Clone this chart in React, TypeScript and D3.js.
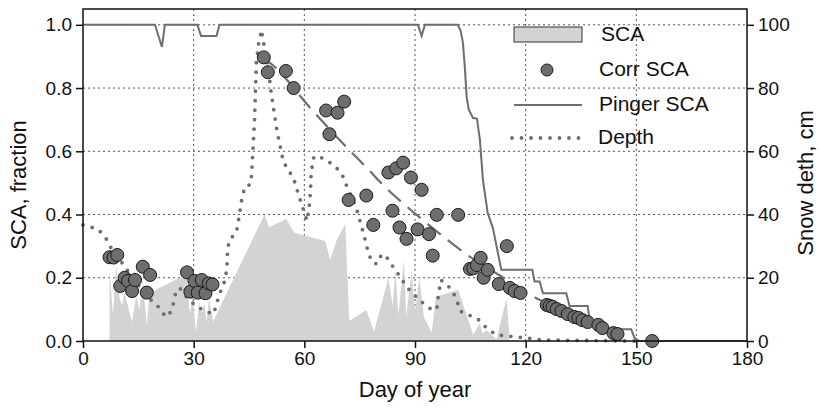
import { useEffect, useRef } from "react";
import * as d3 from "d3";

// Pinger SCA (fraction) by day of year
const pinger: [number, number][] = [
  [0, 1], [19.5, 1], [21.4, 0.93], [22.2, 1], [31, 1], [32, 0.965], [36.2, 0.965], [37, 1],
  [90.8, 1], [91.8, 0.965], [92.7, 1], [101.6, 1], [102.4, 0.98], [103, 0.943], [103.5, 0.867],
  [104, 0.772], [104.6, 0.731], [105.7, 0.706], [106.8, 0.703], [107.6, 0.636], [108.4, 0.51],
  [109.7, 0.405], [111.1, 0.358], [113.4, 0.225], [121.8, 0.225], [122.4, 0.188], [123.8, 0.188],
  [124.7, 0.151], [131, 0.151], [131.9, 0.111], [136.8, 0.111], [137.3, 0.07], [140, 0.05],
  [141, 0.037], [148.6, 0.037], [149.5, 0.01], [150.8, 0], [180, 0],
];

// corrected SCA points
const corrSca: [number, number][] = [
  [7.2, 0.265], [8.3, 0.264], [9.3, 0.272], [10.1, 0.174], [11.3, 0.2], [12.2, 0.19], [13.3, 0.158],
  [14.1, 0.193], [16.2, 0.235], [17.3, 0.153], [18.2, 0.209],
  [28.2, 0.217], [29.1, 0.156], [30.2, 0.19], [31.1, 0.153], [32.2, 0.193], [33.2, 0.151],
  [34.1, 0.182], [35.1, 0.179],
  [49, 0.897], [50.1, 0.85], [55, 0.854], [57.1, 0.8], [65.9, 0.729], [66.8, 0.654], [69, 0.722],
  [70.8, 0.757], [72, 0.446], [76.8, 0.46], [78.7, 0.367], [82.8, 0.533], [83.9, 0.412],
  [84.9, 0.546], [85.8, 0.359], [86.8, 0.564], [87.7, 0.323], [88.9, 0.517], [90.7, 0.353],
  [91.8, 0.478], [93.8, 0.338], [94.8, 0.27], [95.9, 0.399], [101.7, 0.399], [104.9, 0.228],
  [105.8, 0.23], [106.8, 0.24], [107.8, 0.263], [108.6, 0.2], [109.7, 0.225], [112.7, 0.18],
  [114.9, 0.3], [115.7, 0.168], [117, 0.158], [118.6, 0.152],
  [125.7, 0.114], [126.5, 0.111], [127.3, 0.108], [128.4, 0.101], [129.7, 0.095], [131.4, 0.085],
  [133.2, 0.076], [134.3, 0.073], [135.4, 0.066], [136.8, 0.06], [139.7, 0.051], [140.8, 0.041],
  [143.8, 0.025], [144.9, 0.022], [154.3, 0],
];

// fitted trend through the corrected points (dashed)
const trend: [number, number][] = [
  [48.9, 0.896], [52.2, 0.864], [61.6, 0.737], [71.6, 0.611], [77, 0.547], [81.9, 0.487],
  [87.3, 0.43], [92.7, 0.377], [98.1, 0.326], [103.5, 0.278], [113, 0.207], [123.8, 0.13],
  [135, 0.072], [146.8, 0.013],
];

// snow depth, cm (right axis)
const depth: [number, number][] = [
  [0, 36.7], [4, 35.4], [6, 33], [7.3, 30], [10.8, 24.4], [14, 19], [18.4, 13], [20.8, 10.4],
  [22.4, 7.6], [23.8, 9.2], [24.6, 12.3], [25.1, 15.2], [26.2, 16.8], [28, 14], [30.3, 11.4],
  [33, 9.5], [35.4, 8.5], [36.2, 11.7], [37, 14.9], [38, 17.4], [38.6, 20], [39, 23], [39.2, 29],
  [39.7, 32], [41.6, 34.3], [42.4, 40], [43.2, 46], [44, 49], [45.3, 49.4], [45.7, 52.5],
  [46.5, 70], [47, 88], [47.6, 94], [48.4, 98.4], [49.2, 92.7], [50.2, 86.7], [50.8, 80.4],
  [51.9, 71.5], [52.7, 65.8], [53.8, 59.8], [54.3, 56.6], [55.9, 53.8], [57.3, 50.6],
  [58.9, 44.6], [60.7, 38], [61.3, 42], [61.7, 48], [61.8, 52], [62.2, 56], [62.6, 58.3],
  [63.8, 58.5], [66.2, 57], [68.6, 55], [70.5, 52], [71.6, 48.7], [74, 42.4], [75.4, 36.7],
  [76.8, 30.7], [77.3, 27.8], [78.6, 24.7], [79.7, 24.4], [81, 27.5], [82.7, 26], [84.3, 23],
  [86.2, 20], [87.8, 17], [90.3, 14], [92.2, 12], [94.6, 9.8], [95.9, 10.1], [96.2, 13.3],
  [97, 19.3], [98.6, 18], [100.3, 15.5], [101.4, 12.7], [102.2, 9.5], [104.6, 8.2], [107, 7],
  [109.5, 4], [112, 2], [115, 1.6], [119.7, 1], [124.6, 0.3], [150, 0],
];

// satellite SCA (fraction), filled area
const sca: [number, number][] = [
  [7.2, 0], [7.2, 0.23], [8.1, 0.082], [9, 0.24], [9.9, 0.136], [10.6, 0.114], [11.2, 0.155],
  [13.3, 0.06], [14.4, 0.145], [15.3, 0.1], [16.2, 0.187], [17.3, 0.05], [18, 0.145], [19.4, 0.16],
  [26.1, 0.2], [28.1, 0.2], [29, 0.082], [29.7, 0.145], [30.6, 0.03], [31.5, 0.12], [32.2, 0.09],
  [32.9, 0.12], [33.5, 0.06], [34.2, 0.136], [35.3, 0.06], [36, 0.08], [49.2, 0.4], [50.4, 0.36],
  [55.1, 0.386], [57.3, 0.342], [65.7, 0.316], [67, 0.256], [68.8, 0.32], [71.1, 0.37],
  [72.2, 0.063], [76.8, 0.098], [78.9, 0.03], [82.8, 0.2], [84, 0.108], [84.6, 0.225],
  [85.5, 0.082], [87, 0.256], [87.6, 0.077], [89.1, 0.22], [90, 0.093], [91.2, 0.2],
  [92.4, 0.077], [94.5, 0.025], [95.7, 0.14], [101.7, 0.162], [105.8, 0.02], [107.6, 0.056],
  [108.3, 0.024], [109.4, 0.035], [112.1, 0.005], [114.8, 0.135], [115.7, 0],
];

const xTicks = [0, 30, 60, 90, 120, 150, 180];
const yTicks = [0, 0.2, 0.4, 0.6, 0.8, 1.0];
const yRightTicks = [0, 20, 40, 60, 80, 100];

const GRAY = "#6e6e6e";
const FONT = "Liberation Sans, Arial, sans-serif";

export default function App() {
  const svgRef = useRef<SVGSVGElement>(null);

  useEffect(() => {
    if (!svgRef.current) return;
    const svg = d3.select(svgRef.current);
    svg.selectAll("*").remove();

    const left = 83, right = 747, top = 9, bottom = 341;

    const x = d3.scaleLinear().domain([0, 180]).range([left, right]);
    const y = d3.scaleLinear().domain([0, 1.05]).range([bottom, top]);
    const yR = d3.scaleLinear().domain([0, 105]).range([bottom, top]);

    // Grid
    const grid = svg.append("g").attr("stroke", "#555").attr("stroke-width", 1).attr("stroke-dasharray", "2 3");
    grid
      .selectAll("line.h")
      .data(yTicks.filter((d) => d > 0))
      .join("line")
      .attr("x1", left)
      .attr("x2", right)
      .attr("y1", (d) => y(d))
      .attr("y2", (d) => y(d));
    grid
      .selectAll("line.v")
      .data(xTicks.filter((d) => d > 0 && d < 180))
      .join("line")
      .attr("x1", (d) => x(d))
      .attr("x2", (d) => x(d))
      .attr("y1", top)
      .attr("y2", bottom);

    // SCA area
    svg
      .append("path")
      .attr("fill", "#d3d3d3")
      .attr("d", d3.line<[number, number]>().x((d) => x(d[0])).y((d) => y(d[1]))(sca) + "Z");

    // Pinger SCA
    svg
      .append("path")
      .datum(pinger)
      .attr("fill", "none")
      .attr("stroke", GRAY)
      .attr("stroke-width", 2)
      .attr("d", d3.line<[number, number]>().x((d) => x(d[0])).y((d) => y(d[1])));

    // Depth (dotted)
    svg
      .append("path")
      .datum(depth)
      .attr("fill", "none")
      .attr("stroke", GRAY)
      .attr("stroke-width", 3.8)
      .attr("stroke-linecap", "round")
      .attr("stroke-dasharray", "0 9.5")
      .attr("d", d3.line<[number, number]>().x((d) => x(d[0])).y((d) => yR(d[1])));

    // trend (dashed)
    svg
      .append("path")
      .datum(trend)
      .attr("fill", "none")
      .attr("stroke", GRAY)
      .attr("stroke-width", 2.2)
      .attr("stroke-dasharray", "17 9")
      .attr("d", d3.line<[number, number]>().x((d) => x(d[0])).y((d) => y(d[1])).curve(d3.curveMonotoneX));

    // Corr SCA points
    svg
      .append("g")
      .selectAll("circle")
      .data(corrSca)
      .join("circle")
      .attr("cx", (d) => x(d[0]))
      .attr("cy", (d) => y(d[1]))
      .attr("r", 6.5)
      .attr("fill", GRAY)
      .attr("stroke", "#1a1a1a")
      .attr("stroke-width", 1);

    // Frame
    svg
      .append("rect")
      .attr("x", left)
      .attr("y", top)
      .attr("width", right - left)
      .attr("height", bottom - top)
      .attr("fill", "none")
      .attr("stroke", "#111")
      .attr("stroke-width", 1.5);

    // Axes
    const styleAxis = (g: d3.Selection<SVGGElement, unknown, null, undefined>) => {
      g.select(".domain").remove();
      g.selectAll(".tick line").attr("stroke", "#111").attr("stroke-width", 1.5);
      g.selectAll(".tick text").attr("fill", "#111").style("font-size", "19px").style("font-family", FONT);
    };

    svg
      .append("g")
      .attr("transform", `translate(0,${bottom})`)
      .call(d3.axisBottom(x).tickValues(xTicks).tickSize(7).tickPadding(4).tickFormat(d3.format("d")))
      .call(styleAxis);

    svg
      .append("g")
      .attr("transform", `translate(${left},0)`)
      .call(d3.axisLeft(y).tickValues(yTicks).tickSize(7).tickPadding(4).tickFormat(d3.format(".1f")))
      .call(styleAxis);

    svg
      .append("g")
      .attr("transform", `translate(${right},0)`)
      .call(d3.axisRight(yR).tickValues(yRightTicks).tickSize(7).tickPadding(4).tickFormat(d3.format("d")))
      .call(styleAxis);

    // Axis titles
    const title = (sel: d3.Selection<SVGTextElement, unknown, null, undefined>) =>
      sel
        .attr("text-anchor", "middle")
        .style("font-size", "22px")
        .style("font-family", FONT)
        .attr("fill", "#111");

    svg
      .append("text")
      .attr("x", (left + right) / 2)
      .attr("y", 397)
      .call(title)
      .text("Day of year");

    svg
      .append("text")
      .attr("transform", `translate(26,${(top + bottom) / 2 + 10}) rotate(-90)`)
      .call(title)
      .text("SCA, fraction");

    svg
      .append("text")
      .attr("transform", `translate(813,${(top + bottom) / 2 + 8}) rotate(-90)`)
      .call(title)
      .text("Snow deth, cm");

    // Legend
    const legend = svg.append("g");
    const lx = 514;
    legend
      .append("rect")
      .attr("x", lx)
      .attr("y", 27)
      .attr("width", 68)
      .attr("height", 15)
      .attr("fill", "#d3d3d3")
      .attr("stroke", "#333")
      .attr("stroke-width", 1);
    legend
      .append("circle")
      .attr("cx", lx + 33)
      .attr("cy", 70)
      .attr("r", 6)
      .attr("fill", GRAY)
      .attr("stroke", "#1a1a1a");
    legend
      .append("line")
      .attr("x1", lx)
      .attr("x2", lx + 68)
      .attr("y1", 105)
      .attr("y2", 105)
      .attr("stroke", GRAY)
      .attr("stroke-width", 2);
    legend
      .append("line")
      .attr("x1", lx - 2)
      .attr("x2", lx + 68)
      .attr("y1", 138)
      .attr("y2", 138)
      .attr("stroke", GRAY)
      .attr("stroke-width", 3.8)
      .attr("stroke-linecap", "round")
      .attr("stroke-dasharray", "0 9.5");

    const labels = [
      { t: "SCA", y: 41, x: 601 },
      { t: "Corr SCA", y: 76, x: 599 },
      { t: "Pinger SCA", y: 111, x: 599 },
      { t: "Depth", y: 144, x: 598 },
    ];
    legend
      .selectAll("text")
      .data(labels)
      .join("text")
      .attr("x", (d) => d.x)
      .attr("y", (d) => d.y)
      .style("font-size", "21px")
      .style("font-family", FONT)
      .attr("fill", "#111")
      .text((d) => d.t);
  }, []);

  return (
    <svg
      ref={svgRef}
      width={821}
      height={408}
      style={{ position: "absolute", left: 0, top: 0, background: "#fff" }}
    />
  );
}
